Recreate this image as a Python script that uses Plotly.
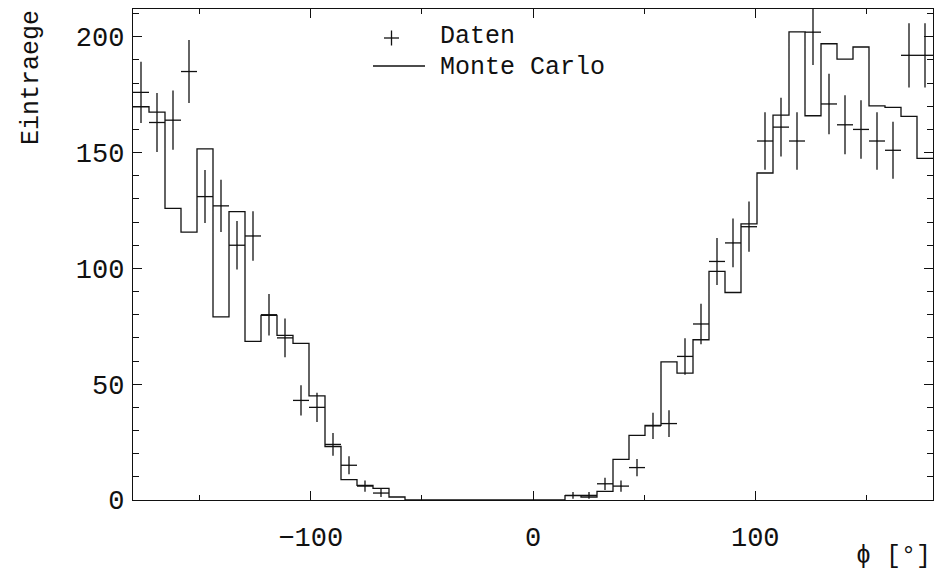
import numpy as np
import plotly.graph_objects as go

# 50 bins of 7.2 degrees over the full phi range
phi_min, phi_max, n_bins = -180.0, 180.0, 50

# Measured entries per bin (0 = empty bin, not drawn)
daten = [176, 163, 164, 185, 131, 127, 110, 114, 80, 70, 43, 40, 24, 15, 6, 3,
         0, 0, 0, 0, 0, 0, 0, 0, 0, 0, 0,
         2, 2, 7, 6, 14, 32, 33, 62, 76, 103, 111, 118, 155, 161, 155, 202,
         171, 162, 160, 155, 151, 192, 192]

# Monte Carlo expectation per bin
monte_carlo = [169.8, 167.5, 125.9, 115.7, 151.6, 79.1, 124.5, 68.5, 79.7, 71.1,
               67.6, 45.0, 23.1, 8.8, 6.3, 5.0, 1.3,
               0, 0, 0, 0, 0, 0, 0, 0, 0, 0,
               1.9, 1.3, 3.7, 17.5, 27.9, 32.2, 59.6, 54.8, 69.2, 98.7, 89.6,
               119.2, 141.2, 166.2, 202.1, 165.9, 197.0, 190.4, 195.6, 170.2,
               169.5, 165.6, 147.5]

x_ticks = [-100, 0, 100]
y_ticks = [0, 50, 100, 150, 200]

edges = np.linspace(phi_min, phi_max, n_bins + 1)
centers = 0.5 * (edges[:-1] + edges[1:])
half_width = 0.5 * (edges[1] - edges[0])

FONT = "Liberation Mono"
INK = "#111111"

fig = go.Figure()

# Monte Carlo as a step histogram
fig.add_trace(go.Scatter(
    x=edges, y=list(monte_carlo) + [monte_carlo[-1]],
    mode="lines", line=dict(shape="hv", color=INK, width=1.3),
    showlegend=False, hoverinfo="skip"))

# Data points: horizontal bar = bin width, vertical bar = sqrt(N)
sel = [i for i, v in enumerate(daten) if v > 0]
xd = [centers[i] for i in sel]
yd = [daten[i] for i in sel]
fig.add_trace(go.Scatter(
    x=xd, y=yd, mode="markers",
    marker=dict(size=1, color=INK),
    error_x=dict(type="constant", value=half_width, width=0,
                 color=INK, thickness=1.3),
    error_y=dict(type="data", array=list(np.sqrt(yd)), width=0,
                 color=INK, thickness=1.3),
    showlegend=False, hoverinfo="skip"))

# Plot-area geometry in pixels (for the hand-drawn legend)
L, R, T, B = 133, 933, 9, 500
def px(xp):
    return (xp - L) / (R - L)
def py(yp):
    return (B - yp) / (B - T)

shapes = [
    # legend "+" for data
    dict(type="line", xref="paper", yref="paper",
         x0=px(384), x1=px(399), y0=py(38), y1=py(38),
         line=dict(color=INK, width=1.3)),
    dict(type="line", xref="paper", yref="paper",
         x0=px(391.5), x1=px(391.5), y0=py(30.5), y1=py(45.5),
         line=dict(color=INK, width=1.3)),
    # legend line for Monte Carlo
    dict(type="line", xref="paper", yref="paper",
         x0=px(373), x1=px(425), y0=py(66), y1=py(66),
         line=dict(color=INK, width=1.3)),
]

annotations = [
    dict(text="Daten", xref="paper", yref="paper", x=px(439), y=py(52),
         xanchor="left", yanchor="bottom", showarrow=False, borderpad=0,
         font=dict(family=FONT, size=25, color=INK)),
    dict(text="Monte Carlo", xref="paper", yref="paper", x=px(439), y=py(52),
         xanchor="left", yanchor="top", showarrow=False, borderpad=0,
         font=dict(family=FONT, size=25, color=INK)),
    dict(text="Eintraege", xref="paper", yref="paper", x=px(31), y=py(78),
         xanchor="center", yanchor="middle", textangle=-90, showarrow=False,
         font=dict(family=FONT, size=25, color=INK)),
    dict(text="ϕ [°]", xref="paper", yref="paper", x=1.0, y=py(556),
         xanchor="right", yanchor="middle", showarrow=False,
         font=dict(family=FONT, size=25, color=INK)),
]

axis_common = dict(
    showline=True, linecolor=INK, linewidth=1.3, mirror="allticks",
    ticks="inside", tickcolor=INK, tickwidth=1.3,
    showgrid=False, zeroline=False,
    tickfont=dict(family=FONT, size=27, color=INK),
)

fig.update_layout(
    width=934, height=575,
    margin=dict(l=L, r=934 - R, t=T, b=575 - B),
    paper_bgcolor="white", plot_bgcolor="white",
    xaxis=dict(range=[phi_min, phi_max], tickmode="array", tickvals=x_ticks,
               ticklen=9, ticklabelstandoff=12,
               minor=dict(dtick=50, tick0=0, ticks="inside", ticklen=5,
                          tickcolor=INK, tickwidth=1.3),
               **axis_common),
    yaxis=dict(range=[0, 212], tickmode="array", tickvals=y_ticks,
               ticklen=9, ticklabelstandoff=2,
               minor=dict(dtick=10, tick0=0, ticks="inside", ticklen=6,
                          tickcolor=INK, tickwidth=1.3),
               **axis_common),
    shapes=shapes, annotations=annotations,
)

fig.write_html("out.html")
